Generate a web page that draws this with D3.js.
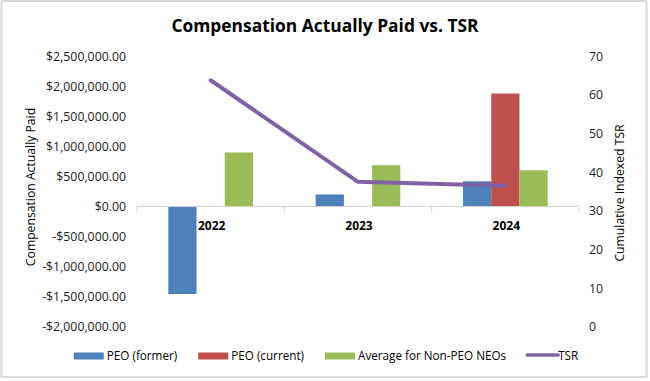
<!DOCTYPE html>
<html>
<head>
<meta charset="utf-8">
<script src="https://cdn.jsdelivr.net/npm/d3@7"></script>
<style>
  html, body { margin: 0; padding: 0; background: #ffffff; }
  svg { display: block; }
  text { font-family: "Open Sans", "Noto Sans", sans-serif; }
</style>
</head>
<body>
<svg id="chart" width="650" height="381"></svg>
<script>
// ---- data ----
const years = ["2022", "2023", "2024"];
const seriesNames = ["PEO (former)", "PEO (current)", "Average for Non-PEO NEOs"];
const peoFormer = [-1456000, 201000, 420000];
const peoCurrent = [null, null, 1880000];
const nonPeoAvg = [900000, 688000, 602000];
const tsr = [63.8, 37.5, 36.5];
const leftTicks = [-2000000, -1500000, -1000000, -500000, 0, 500000, 1000000, 1500000, 2000000, 2500000];
const rightTicks = [0, 10, 20, 30, 40, 50, 60, 70];
const colors = ["#4F81BD", "#C0504D", "#9BBB59"];
const tsrColor = "#7F62A6";

const seriesValues = [peoFormer, peoCurrent, nonPeoAvg];

const svg = d3.select("#chart");

// border
svg.append("rect")
  .attr("x", 1.5).attr("y", 1).attr("width", 645).attr("height", 376)
  .attr("fill", "#fff").attr("stroke", "#d9d9d9").attr("stroke-width", 2);

// title
svg.append("text")
  .attr("x", 325).attr("y", 32)
  .attr("text-anchor", "middle")
  .attr("font-size", 17.4).attr("font-weight", 700).attr("fill", "#000")
  .text("Compensation Actually Paid vs. TSR");

const plotLeft = 137, plotRight = 579, plotTop = 56.3, plotBottom = 326.7;

const x = d3.scaleBand().domain(years).range([plotLeft, plotRight]).padding(0);
const xSub = d3.scaleBand().domain(seriesNames).range([0, x.bandwidth()])
  .paddingInner(0).paddingOuter(1.11);
const yL = d3.scaleLinear().domain([-2000000, 2500000]).range([plotBottom, plotTop]);
const yR = d3.scaleLinear().domain([0, 70]).range([plotBottom, plotTop]);

// bars
seriesNames.forEach((name, si) => {
  const vals = seriesValues[si];
  svg.append("g").selectAll("rect")
    .data(years.map((yr, i) => ({ yr, v: vals[i] })).filter(d => d.v != null))
    .join("rect")
    .attr("x", d => x(d.yr) + xSub(name))
    .attr("width", xSub.bandwidth())
    .attr("y", d => yL(Math.max(0, d.v)))
    .attr("height", d => Math.abs(yL(d.v) - yL(0)))
    .attr("fill", colors[si]);
});

// category axis line at zero
const zeroY = yL(0);
svg.append("line")
  .attr("x1", plotLeft).attr("x2", plotRight)
  .attr("y1", zeroY).attr("y2", zeroY)
  .attr("stroke", "#d0d0d0").attr("stroke-width", 1);
// boundary tick marks
const boundaries = years.map(y => x(y)).concat([x(years[years.length - 1]) + x.bandwidth()]);
svg.append("g").selectAll("line").data(boundaries).join("line")
  .attr("x1", d => d).attr("x2", d => d)
  .attr("y1", zeroY).attr("y2", zeroY + 5)
  .attr("stroke", "#d0d0d0").attr("stroke-width", 1);
// category labels
svg.append("g").selectAll("text").data(years).join("text")
  .attr("x", d => x(d) + x.bandwidth() / 2 + 1)
  .attr("y", zeroY + 23)
  .attr("text-anchor", "middle")
  .attr("font-size", 12).attr("font-weight", 700).attr("fill", "#000")
  .text(d => d);

// left axis
const money = d3.format("$,.2f");
const fmtMoney = v => v < 0 ? "-" + money(-v) : money(v);
const leftAxis = d3.axisLeft(yL).tickValues(leftTicks).tickFormat(fmtMoney).tickSize(0).tickPadding(0);
const gL = svg.append("g").attr("transform", "translate(126,0)").call(leftAxis);
gL.select(".domain").remove();
gL.selectAll("text").attr("font-size", 12.3).attr("fill", "#1a1a1a")
  .attr("font-family", "'Open Sans', sans-serif");

// right axis
const rightAxis = d3.axisRight(yR).tickValues(rightTicks).tickFormat(d3.format("d")).tickSize(0).tickPadding(0);
const gR = svg.append("g").attr("transform", "translate(589,0)").call(rightAxis);
gR.select(".domain").remove();
gR.selectAll("text").attr("font-size", 12.3).attr("fill", "#1a1a1a")
  .attr("font-family", "'Open Sans', sans-serif");

// axis titles
svg.append("text")
  .attr("transform", "translate(35,187) rotate(-90)")
  .attr("text-anchor", "middle")
  .attr("font-size", 12.2).attr("fill", "#000")
  .text("Compensation Actually Paid");
svg.append("text")
  .attr("transform", "translate(624,193) rotate(-90)")
  .attr("text-anchor", "middle")
  .attr("font-size", 12.2).attr("fill", "#000")
  .text("Cumulative Indexed TSR");

// TSR line
const line = d3.line()
  .x((d, i) => x(years[i]) + x.bandwidth() / 2)
  .y(d => yR(d));
svg.append("path")
  .datum(tsr)
  .attr("d", line)
  .attr("fill", "none")
  .attr("stroke", tsrColor)
  .attr("stroke-width", 4)
  .attr("stroke-linecap", "round")
  .attr("stroke-linejoin", "round");

// legend
const legendItems = [
  { name: seriesNames[0], type: "rect", color: colors[0] },
  { name: seriesNames[1], type: "rect", color: colors[1] },
  { name: seriesNames[2], type: "rect", color: colors[2] },
  { name: "TSR", type: "line", color: tsrColor }
];
const legend = svg.append("g");
let cx = 0;
const ly = 356;
legendItems.forEach(it => {
  const g = legend.append("g").attr("transform", `translate(${cx},0)`);
  if (it.type === "rect") {
    g.append("rect").attr("x", 0).attr("y", ly - 3.5).attr("width", 30).attr("height", 7).attr("fill", it.color);
  } else {
    g.append("line").attr("x1", 0).attr("x2", 31).attr("y1", ly - 1).attr("y2", ly - 1)
      .attr("stroke", it.color).attr("stroke-width", 3.5).attr("stroke-linecap", "round");
  }
  const t = g.append("text").attr("x", it.type === "rect" ? 33 : 31).attr("y", ly + 4)
    .attr("font-size", 11.7).attr("fill", "#000").text(it.name);
  const w = t.node().getComputedTextLength();
  cx += (it.type === "rect" ? 33 : 31) + w + 21;
});
const totalW = cx - 21;
legend.attr("transform", `translate(${326 - totalW / 2},0)`);
</script>
</body>
</html>
